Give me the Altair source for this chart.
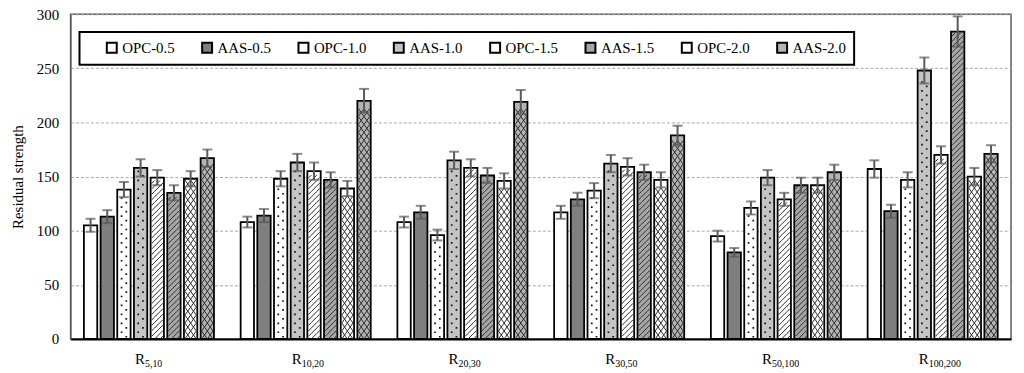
import altair as alt
import pandas as pd

groups = ["R5,10", "R10,20", "R20,30", "R30,50", "R50,100", "R100,200"]
subs = ["5,10", "10,20", "20,30", "30,50", "50,100", "100,200"]
series = ["OPC-0.5", "AAS-0.5", "OPC-1.0", "AAS-1.0", "OPC-1.5", "AAS-1.5", "OPC-2.0", "AAS-2.0"]

opc_05 = [105, 108, 108, 117, 95, 157]
aas_05 = [113, 114, 117, 129, 80, 118]
opc_10 = [138, 148, 96, 137, 121, 147]
aas_10 = [158, 163, 165, 162, 149, 248]
opc_15 = [149, 155, 158, 159, 129, 170]
aas_15 = [135, 147, 151, 154, 142, 284]
opc_20 = [148, 139, 146, 147, 142, 150]
aas_20 = [167, 220, 219, 188, 154, 171]

err_opc_05 = [6, 5, 5, 6, 5, 8]
err_aas_05 = [6, 6, 6, 6, 4, 6]
err_opc_10 = [7, 7, 5, 7, 6, 7]
err_aas_10 = [8, 8, 8, 8, 7, 12]
err_opc_15 = [7, 8, 8, 8, 6, 8]
err_aas_15 = [7, 7, 7, 7, 7, 14]
err_opc_20 = [7, 7, 7, 7, 7, 8]
err_aas_20 = [8, 11, 11, 9, 7, 8]

values = [opc_05, aas_05, opc_10, aas_10, opc_15, aas_15, opc_20, aas_20]
errors = [err_opc_05, err_aas_05, err_opc_10, err_aas_10, err_opc_15, err_aas_15, err_opc_20, err_aas_20]
fills = ["#ffffff", "#7f7f7f", "#ffffff", "#c4c4c4", "#ffffff", "#a6a6a6", "#ffffff", "#b4b4b4"]
patterns = ["none", "none", "dots", "dots", "hatch", "hatch", "cross", "cross"]

W, H = 947, 327
Y_MAX = 300
PX_PER_UNIT = H / Y_MAX
TILE_R = 5.7  # half width of a pattern tile, px
TILE_SIZE = (2 * TILE_R) ** 2

rows = []
for s, vals, errs in zip(series, values, errors):
    for g, v, e in zip(groups, vals, errs):
        rows.append({"group": g, "series": s, "value": v, "lo": v - e, "hi": v + e})
df = pd.DataFrame(rows)


# ---------- pattern tiles (decoration stacked inside each bar) ----------
def clip_line(m, c, h):
    pts = []
    for xv in (-1.0, 1.0):
        yv = m * xv + c
        if -h - 1e-9 <= yv <= h + 1e-9:
            pts.append((xv, yv))
    for yv in (-h, h):
        xv = (yv - c) / m
        if -1 - 1e-9 <= xv <= 1 + 1e-9:
            pts.append((xv, yv))
    uniq = []
    for p in pts:
        if all(abs(p[0] - q[0]) > 1e-6 or abs(p[1] - q[1]) > 1e-6 for q in uniq):
            uniq.append(p)
    if len(uniq) < 2:
        return ""
    a, b = uniq[0], uniq[1]
    return f"M{a[0]:.3f},{a[1]:.3f}L{b[0]:.3f},{b[1]:.3f}"


def line_family(slope, period, offset, h):
    d = ""
    for k in range(-12, 13):
        d += clip_line(slope, offset + k * period, h)
    return d


hatch_px = 5.5
hatch_h = hatch_px / 2 / TILE_R
hatch_path = line_family(-1.0, 2 * hatch_h, 0.0, hatch_h)

cross_a, cross_b = TILE_R, 8.0  # diamond width, height in px
cross_h = cross_b / 2 / TILE_R
sl = cross_b / cross_a
cross_path = line_family(-sl, 2 * cross_h, cross_h, cross_h) + line_family(sl, 2 * cross_h, cross_h, cross_h)

dot_px = 9.0
dot_h = dot_px / 2 / TILE_R
ds = 1.7 / TILE_R


def sq(cx, cy):
    return f"M{cx - ds / 2:.3f},{cy - ds / 2:.3f}h{ds:.3f}v{ds:.3f}h{-ds:.3f}Z"


dots_path = sq(-0.42, -dot_h / 2) + sq(0.42, dot_h / 2)

tile_px = {"hatch": hatch_px, "cross": cross_b, "dots": dot_px}

tiles = []
for s, pat, vals in zip(series, patterns, values):
    if pat == "none":
        continue
    t_units = tile_px[pat] / PX_PER_UNIT
    for g, v in zip(groups, vals):
        k = 0
        while (k + 1) * t_units <= v - 0.5:
            tiles.append({"group": g, "series": s, "pattern": pat, "yc": (k + 0.5) * t_units})
            k += 1
tiles_df = pd.DataFrame(tiles)

serif = "Liberation Serif"

x_enc = alt.X("group:N", sort=groups,
              scale=alt.Scale(paddingInner=0, paddingOuter=0),
              axis=alt.Axis(title=None, labels=False, ticks=False,
                            domainColor="black", domainWidth=2))
xo_enc = alt.XOffset("series:N", sort=series,
                     scale=alt.Scale(paddingInner=0.2, paddingOuter=0.8))
y_scale = alt.Scale(domain=[0, Y_MAX])

legend_expr = ("datum.label === 'AAS-2.0' ? "
               "'AAS-2.0\u00a0\u00a0\u00a0\u00a0\u00a0\u00a0\u00a0\u00a0' : datum.label")

bars = alt.Chart(df).mark_bar(stroke="black", strokeWidth=1.8).encode(
    x=x_enc,
    xOffset=xo_enc,
    y=alt.Y("value:Q", scale=y_scale,
            axis=alt.Axis(values=[0, 50, 100, 150, 200, 250, 300], title="Residual strength",
                          titleFont=serif, titleFontSize=15, titleFontWeight="normal",
                          titleColor="black", titlePadding=11,
                          labelFont=serif, labelFontSize=15, labelColor="black",
                          labelPadding=12, ticks=False, domainColor="#595959",
                          grid=True, gridColor="#a8a8a8", gridDash=[3, 2], gridWidth=1)),
    fill=alt.Fill("series:N", sort=series,
                  scale=alt.Scale(domain=series, range=fills),
                  legend=alt.Legend(orient="none", legendX=9, legendY=18,
                                    direction="horizontal", title=" ", titleOrient="left",
                                    titlePadding=17, symbolType="square", symbolSize=100,
                                    symbolStrokeColor="black", symbolStrokeWidth=2,
                                    labelFont=serif, labelFontSize=15, labelColor="black",
                                    labelOffset=3, columnPadding=23, padding=8,
                                    labelExpr=legend_expr,
                                    strokeColor="black", fillColor="white")),
)


def pattern_layer(pat, path, filled):
    base = alt.Chart(tiles_df).transform_filter(alt.datum.pattern == pat)
    if filled:
        mk = base.mark_point(shape=path, size=TILE_SIZE, filled=True, fill="#111111",
                             strokeWidth=0, opacity=1)
    else:
        mk = base.mark_point(shape=path, size=TILE_SIZE, filled=False, stroke="#2a2a2a",
                             strokeWidth=1, opacity=1)
    return mk.encode(x=x_enc, xOffset=xo_enc, y=alt.Y("yc:Q", scale=y_scale))


hatch_layer = pattern_layer("hatch", hatch_path, False)
cross_layer = pattern_layer("cross", cross_path, False)
dots_layer = pattern_layer("dots", dots_path, True)

err_rule = alt.Chart(df).mark_rule(color="#595959", strokeWidth=2).encode(
    x=x_enc, xOffset=xo_enc, y=alt.Y("lo:Q", scale=y_scale), y2="hi:Q")
cap_hi = alt.Chart(df).mark_tick(color="#595959", thickness=2, size=10, orient="horizontal").encode(
    x=x_enc, xOffset=xo_enc, y=alt.Y("hi:Q", scale=y_scale))
cap_lo = alt.Chart(df).mark_tick(color="#595959", thickness=2, size=10, orient="horizontal").encode(
    x=x_enc, xOffset=xo_enc, y=alt.Y("lo:Q", scale=y_scale))

lab_df = pd.DataFrame({"group": groups, "sub": subs})
lab_r = alt.Chart(lab_df).mark_text(text="R", align="right", baseline="alphabetic", dx=-4,
                                    font=serif, fontSize=15, color="black").encode(
    x=x_enc, y=alt.value(352))
lab_sub = alt.Chart(lab_df).mark_text(align="left", baseline="alphabetic", dx=-4,
                                      font=serif, fontSize=10, color="black").encode(
    x=x_enc, y=alt.value(355), text="sub:N")

chart = alt.layer(bars, dots_layer, hatch_layer, cross_layer, err_rule, cap_hi, cap_lo,
                  lab_r, lab_sub).properties(
    width=W, height=H,
    autosize=alt.AutoSizeParams(type="none"),
    padding={"left": 63, "top": 5, "right": 5, "bottom": 30},
).configure(font=serif).configure_view(stroke="#595959", strokeWidth=1.5).configure_legend(
    strokeWidth=2, labelFont=serif).configure_axis(labelFont=serif, titleFont=serif)

chart.save("out.html", embed_options={"renderer": "svg", "actions": False})
